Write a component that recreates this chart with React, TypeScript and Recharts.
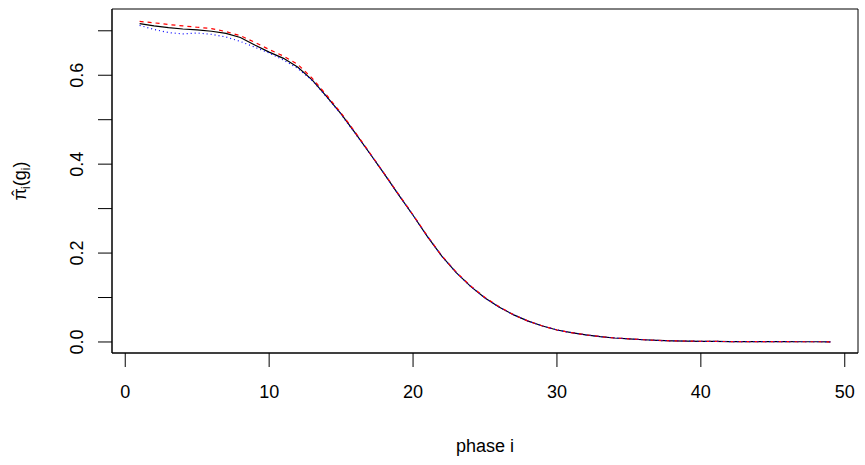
import { LineChart, Line, XAxis, YAxis, ReferenceArea, Label } from 'recharts'

const phases = Array.from({ length: 49 }, (_, i) => i + 1)

// solid black
const estA = [
  0.716, 0.711, 0.707, 0.704, 0.702, 0.699, 0.694, 0.685, 0.668, 0.652,
  0.638, 0.618, 0.589, 0.552, 0.513, 0.469, 0.424, 0.378, 0.331, 0.285,
  0.237, 0.193, 0.156, 0.125, 0.099, 0.078, 0.061, 0.047, 0.036, 0.027,
  0.021, 0.016, 0.012, 0.009, 0.007, 0.005, 0.0035, 0.0025, 0.002, 0.0015,
  0.0012, 0.001, 0.0009, 0.0008, 0.0007, 0.0006, 0.0005, 0.0005, 0.0004,
]
// dashed red
const estB = [
  0.721, 0.718, 0.714, 0.711, 0.708, 0.705, 0.698, 0.689, 0.674, 0.658,
  0.643, 0.624, 0.593, 0.555, 0.515, 0.471, 0.425, 0.379, 0.332, 0.286,
  0.238, 0.194, 0.157, 0.126, 0.1, 0.079, 0.061, 0.047, 0.036, 0.027,
  0.021, 0.016, 0.012, 0.009, 0.007, 0.005, 0.0035, 0.0025, 0.002, 0.0015,
  0.0012, 0.001, 0.0009, 0.0008, 0.0007, 0.0006, 0.0005, 0.0005, 0.0004,
]
// dotted blue
const estC = [
  0.712, 0.703, 0.696, 0.693, 0.695, 0.692, 0.686, 0.676, 0.663, 0.65,
  0.634, 0.615, 0.588, 0.551, 0.512, 0.468, 0.424, 0.378, 0.331, 0.285,
  0.237, 0.193, 0.156, 0.125, 0.099, 0.078, 0.061, 0.047, 0.036, 0.027,
  0.021, 0.016, 0.012, 0.009, 0.007, 0.005, 0.0035, 0.0025, 0.002, 0.0015,
  0.0012, 0.001, 0.0009, 0.0008, 0.0007, 0.0006, 0.0005, 0.0005, 0.0004,
]

const xTicks = [0, 10, 20, 30, 40, 50]
const yTicks = [0, 0.1, 0.2, 0.3, 0.4, 0.5, 0.6, 0.7]
const yLabelled = [0, 0.2, 0.4, 0.6]

const xDomain = [-0.92, 50.92]
const yDomain = [-0.0248, 0.749]

const data = phases.map((p, i) => ({ phase: p, a: estA[i], b: estB[i], c: estC[i] }))

const font = '"Liberation Sans", Arial, sans-serif'
const fs = 18

function YTick(props: any) {
  const { x, y, payload } = props
  const v = payload.value
  if (!yLabelled.some((t) => Math.abs(t - v) < 1e-9)) return null
  const cx = x - 7
  return (
    <text x={cx} y={y} transform={`rotate(-90 ${cx} ${y})`} textAnchor="middle" fontSize={fs} fill="#000" fontFamily={font}>
      {v.toFixed(1)}
    </text>
  )
}

function YTitle(props: any) {
  const vb = props.viewBox
  const cx = vb.x + 26
  const cy = vb.y + vb.height / 2
  return (
    <text x={cx} y={cy} transform={`rotate(-90 ${cx} ${cy})`} textAnchor="middle" fontSize={fs} fill="#000" fontFamily={font}>
      π
      <tspan dx={-8} dy={-1}>ˆ</tspan>
      <tspan dx={1} dy={5} fontSize={12}>i</tspan>
      <tspan dy={-4}>(g</tspan>
      <tspan fontSize={12} dy={4}>i</tspan>
      <tspan dy={-4}>)</tspan>
    </text>
  )
}

function XTitle(props: any) {
  const vb = props.viewBox
  return (
    <text x={vb.x + vb.width / 2} y={452} textAnchor="middle" fontSize={fs} fill="#000" fontFamily={font}>
      phase i
    </text>
  )
}

export default function App() {
  return (
    <div style={{ position: 'absolute', left: 0, top: 0, width: 865, height: 465, background: '#fff' }}>
      <LineChart width={865} height={465} data={data} margin={{ top: 9, right: 7, bottom: 0, left: 0 }}>
        <XAxis
          dataKey="phase"
          type="number"
          domain={xDomain}
          ticks={xTicks}
          allowDataOverflow
          height={112}
          tickSize={14}
          tickMargin={18}
          axisLine={{ stroke: '#000' }}
          tickLine={{ stroke: '#000' }}
          tick={{ fill: '#000', fontSize: fs, fontFamily: font }}
        >
          <Label content={<XTitle />} />
        </XAxis>
        <YAxis
          type="number"
          domain={yDomain}
          ticks={yTicks}
          allowDataOverflow
          width={112}
          tickSize={14}
          tickMargin={8}
          axisLine={{ stroke: '#000' }}
          tickLine={{ stroke: '#000' }}
          tick={<YTick />}
        >
          <Label content={<YTitle />} />
        </YAxis>
        <ReferenceArea x1={xDomain[0]} x2={xDomain[1]} y1={yDomain[0]} y2={yDomain[1]} fill="none" stroke="#000" strokeOpacity={1} fillOpacity={0} />
        <Line dataKey="a" type="linear" stroke="#000" strokeWidth={1.2} dot={false} isAnimationActive={false} />
        <Line dataKey="b" type="linear" stroke="#ff0000" strokeWidth={1.2} strokeDasharray="4 4" dot={false} isAnimationActive={false} />
        <Line dataKey="c" type="linear" stroke="#0000ff" strokeWidth={1.2} strokeDasharray="1 3" dot={false} isAnimationActive={false} />
      </LineChart>
    </div>
  )
}
